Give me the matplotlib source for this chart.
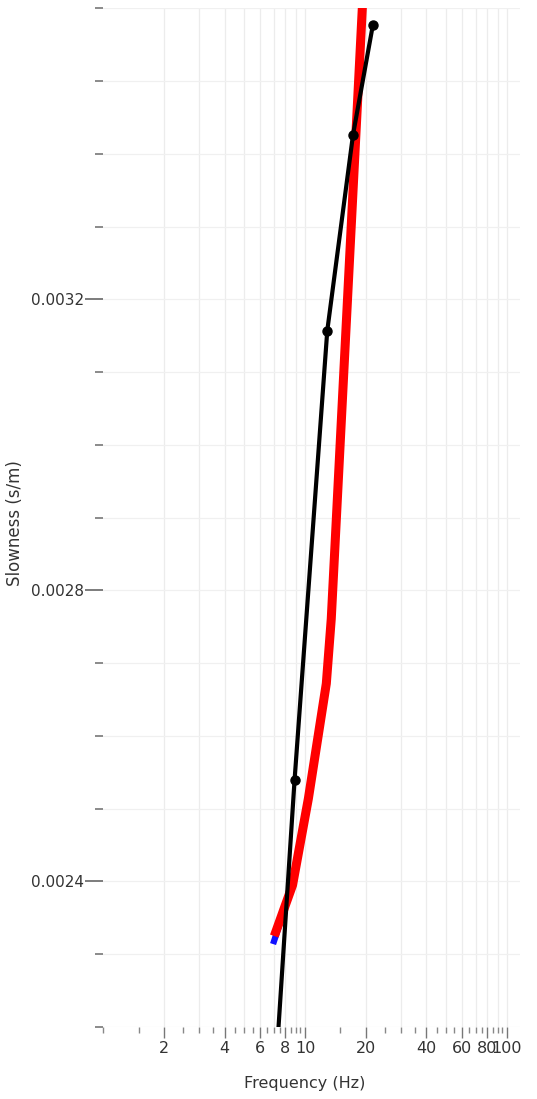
import matplotlib
matplotlib.use("Agg")
import matplotlib.pyplot as plt
from matplotlib.ticker import FixedLocator, NullFormatter, FuncFormatter

# picked points (black curve with markers)
pick_freq = [7.2, 8.88, 12.9, 17.3, 21.7]
pick_slow = [0.00215, 0.002539, 0.003157, 0.003426, 0.003577]

# fitted curve (red) and the blue one underneath
fit_freq = [7.05, 8.68, 10.4, 12.76, 13.5, 19.4]
fit_slow = [0.002325, 0.002395, 0.002514, 0.002672, 0.002761, 0.00362]
blue_freq = [6.95, 8.68, 10.4, 12.76, 13.5, 19.4]
blue_slow = [0.002314, 0.002395, 0.002514, 0.002672, 0.002761, 0.00362]

x_major = [2, 4, 6, 8, 10, 20, 40, 60, 80, 100]
x_minor = [1, 1.5, 2.5, 3, 3.5, 4.5, 5, 5.5, 6.5, 7, 7.5, 8.5, 9, 9.5,
           15, 25, 30, 35, 45, 50, 55, 65, 70, 75, 85, 90, 95]
x_grid = [2, 3, 4, 5, 6, 7, 8, 9, 10, 20, 30, 40, 50, 60, 70, 80, 90, 100]
y_major = [0.0024, 0.0028, 0.0032]
y_minor = [0.0022, 0.0023, 0.0025, 0.0026, 0.0027, 0.0029, 0.0030,
           0.0031, 0.0033, 0.0034, 0.0035, 0.0036]

fig = plt.figure(figsize=(5.37, 10.99), dpi=100)
ax = fig.add_axes([0.192, 0.0655, 0.776, 0.927])

ax.set_xscale("log")
ax.set_xlim(1, 116)
ax.set_ylim(0.0022, 0.0036)

# light grid
for g in x_grid:
    ax.axvline(g, color="#ececec", lw=0.9, zorder=0)
for g in y_major + y_minor:
    ax.axhline(g, color="#f0f0f0", lw=0.9, zorder=0)

ax.plot(blue_freq, blue_slow, color="#1010ff", lw=4.5, solid_capstyle="butt", zorder=2)
ax.plot(fit_freq, fit_slow, color="#ff0000", lw=6.5, solid_capstyle="butt", zorder=3)
ax.plot(pick_freq, pick_slow, color="black", lw=3, marker="o", ms=6.5, zorder=4)

ax.xaxis.set_major_locator(FixedLocator(x_major))
ax.xaxis.set_minor_locator(FixedLocator(x_minor))
ax.xaxis.set_major_formatter(FuncFormatter(lambda v, p: "%g" % v))
ax.xaxis.set_minor_formatter(NullFormatter())
ax.yaxis.set_major_locator(FixedLocator(y_major))
ax.yaxis.set_minor_locator(FixedLocator(y_minor))
ax.yaxis.set_major_formatter(FuncFormatter(lambda v, p: "%.4f" % v))

for s in ax.spines.values():
    s.set_visible(False)

ax.tick_params(axis="x", which="major", length=8, width=1, color="#777777",
               labelsize=11.5, labelcolor="#333333", pad=2)
ax.tick_params(axis="x", which="minor", length=4, width=1, color="#888888")
ax.tick_params(axis="y", which="major", length=13, width=1.2, color="#666666",
               labelsize=11, labelcolor="#333333", pad=1)
ax.tick_params(axis="y", which="minor", length=6, width=1.2, color="#777777")

ax.set_xlabel("Frequency (Hz)", fontsize=11.5, color="#333333")
ax.xaxis.set_label_coords(0.483, -0.048)
ax.set_ylabel("Slowness (s/m)", fontsize=12, color="#333333")
ax.yaxis.set_label_coords(-0.19, 0.495)

fig.savefig("out.png", dpi=100)
